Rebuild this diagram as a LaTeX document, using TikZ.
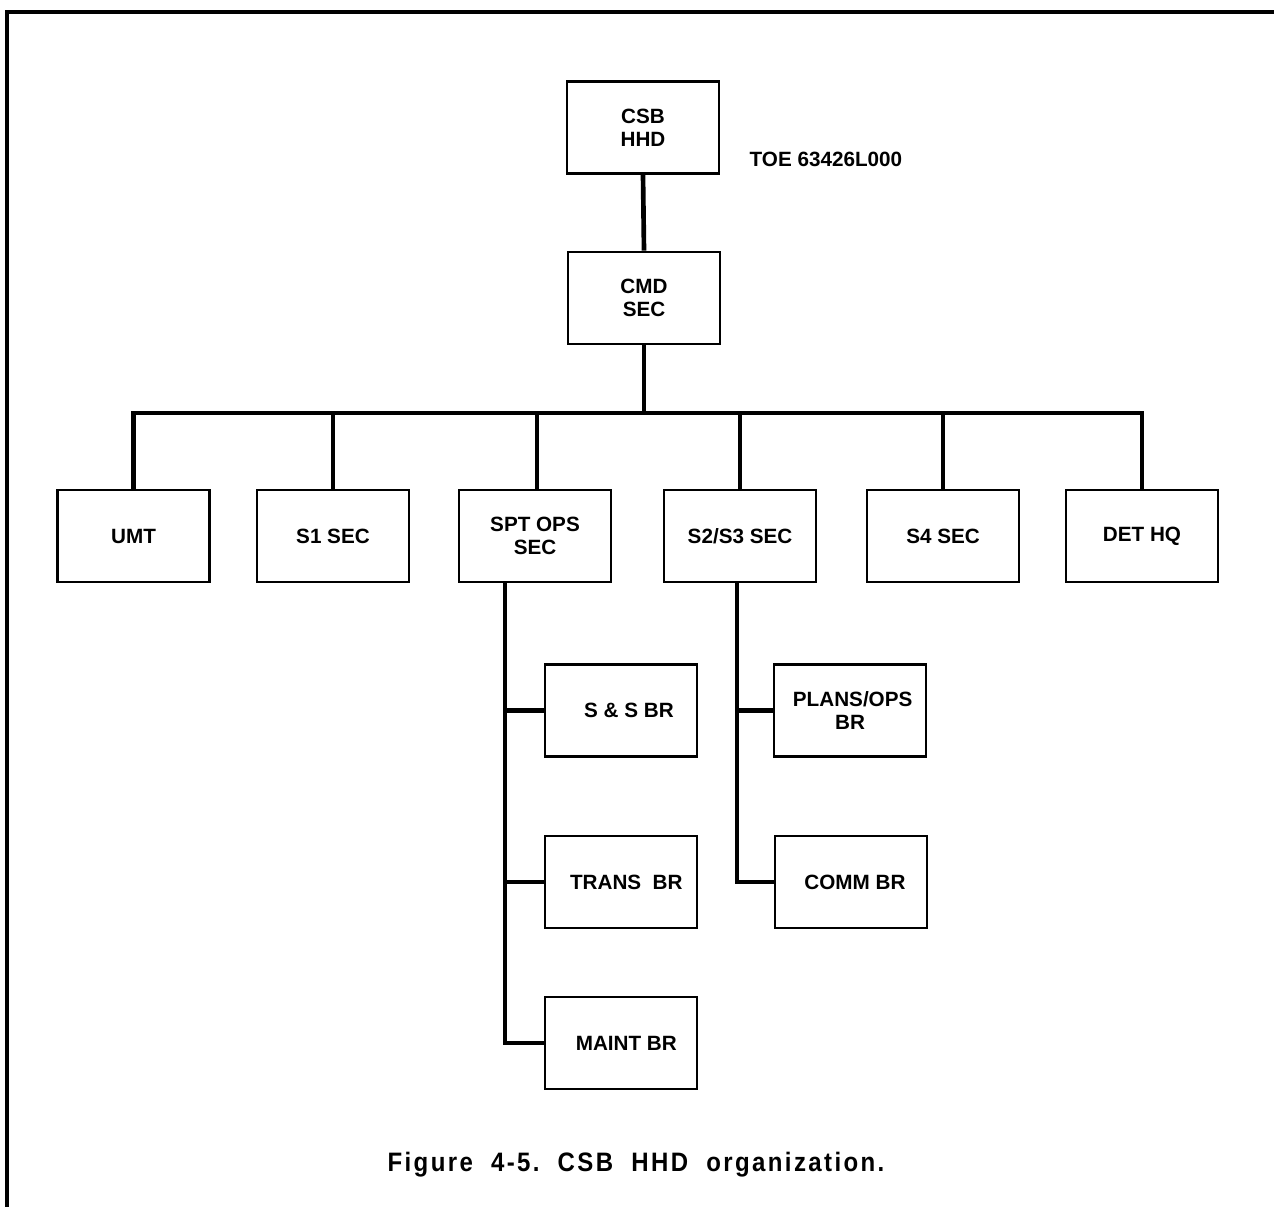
\documentclass[tikz,border=0pt]{standalone}
\usepackage{fontspec}
\setmainfont{Liberation Sans}
\newfontfamily\capfont[FakeStretch=0.9,LetterSpace=9]{Liberation Sans}
\usetikzlibrary{calc}
\begin{document}
\begin{tikzpicture}[x=0.75pt,y=-0.75pt,
  unit/.style={draw,line width=2.2pt,minimum width=114pt,minimum height=69pt,
    inner sep=0pt,align=center,font=\fontsize{15.5}{17}\selectfont\bfseries},
  conn/.style={line width=3.5pt},
  frame/.style={line width=3pt}]
  \useasboundingbox (0,0) rectangle (1274,1207);
  % page frame (top and left rules)
  \draw[frame] (1274,12) -- (7,12) -- (7,1207);

  % headquarters and command section
  \node[unit] (csb) at (643,127.5) {CSB\\HHD};
  \node[anchor=west,font=\fontsize{15.5}{17}\selectfont\bfseries] (toe) at (745,159) {TOE 63426L000};
  \node[unit] (cmd) at (644,298) {CMD\\SEC};

  % sections
  \node[unit] (umt)  at (133.5,536) {UMT};
  \node[unit] (s1)   at (333,536)   {S1 SEC};
  \node[unit] (spt)  at (535,536)   {SPT OPS\\SEC};
  \node[unit] (s23)  at (740,536)   {S2/S3 SEC};
  \node[unit] (s4)   at (943,536)   {S4 SEC};
  \node[unit] (det)  at (1142,536)  {DET HQ};

  % branches
  \node[unit] (ss)    at (621,710.5) {\hspace*{12pt}S \& S BR};
  \node[unit] (trans) at (621,882)   {\hspace*{8pt}TRANS\ \ BR};
  \node[unit] (maint) at (621,1043)  {\hspace*{8pt}MAINT BR};
  \node[unit] (plans) at (850,710.5) {\hspace*{4pt}PLANS/OPS\\BR};
  \node[unit] (comm)  at (851,882)   {\hspace*{6pt}COMM BR};

  % caption
  \node[font=\fontsize{20}{24}\selectfont\bfseries\capfont] (cap) at (636,1165)
    {Figure\ \ 4-5.\ \ CSB\ \ HHD\ \ organization.};

  % connectors
  \coordinate (bus) at (0,413);
  \draw[conn] (csb.south) -- (cmd.north);
  \draw[conn] (cmd.south) -- (cmd.south |- bus);
  \draw[conn] (umt.north) |- (det.north |- bus) -- (det.north);
  \draw[conn] (s1.north) -- (s1.north |- bus);
  \draw[conn] ($(spt.north)+(2,0)$) -- ($(spt.north |- bus)+(2,0)$);
  \draw[conn] (s23.north) -- (s23.north |- bus);
  \draw[conn] (s4.north) -- (s4.north |- bus);

  \coordinate (sptx) at ($(spt.south)+(-30,0)$);
  \draw[conn] (sptx) |- (maint.west);
  \draw[conn] (sptx |- ss.west) -- (ss.west);
  \draw[conn] (sptx |- trans.west) -- (trans.west);

  \coordinate (s23x) at ($(s23.south)+(-3,0)$);
  \draw[conn] (s23x) |- (comm.west);
  \draw[conn] (s23x |- plans.west) -- (plans.west);
\end{tikzpicture}
\end{document}
